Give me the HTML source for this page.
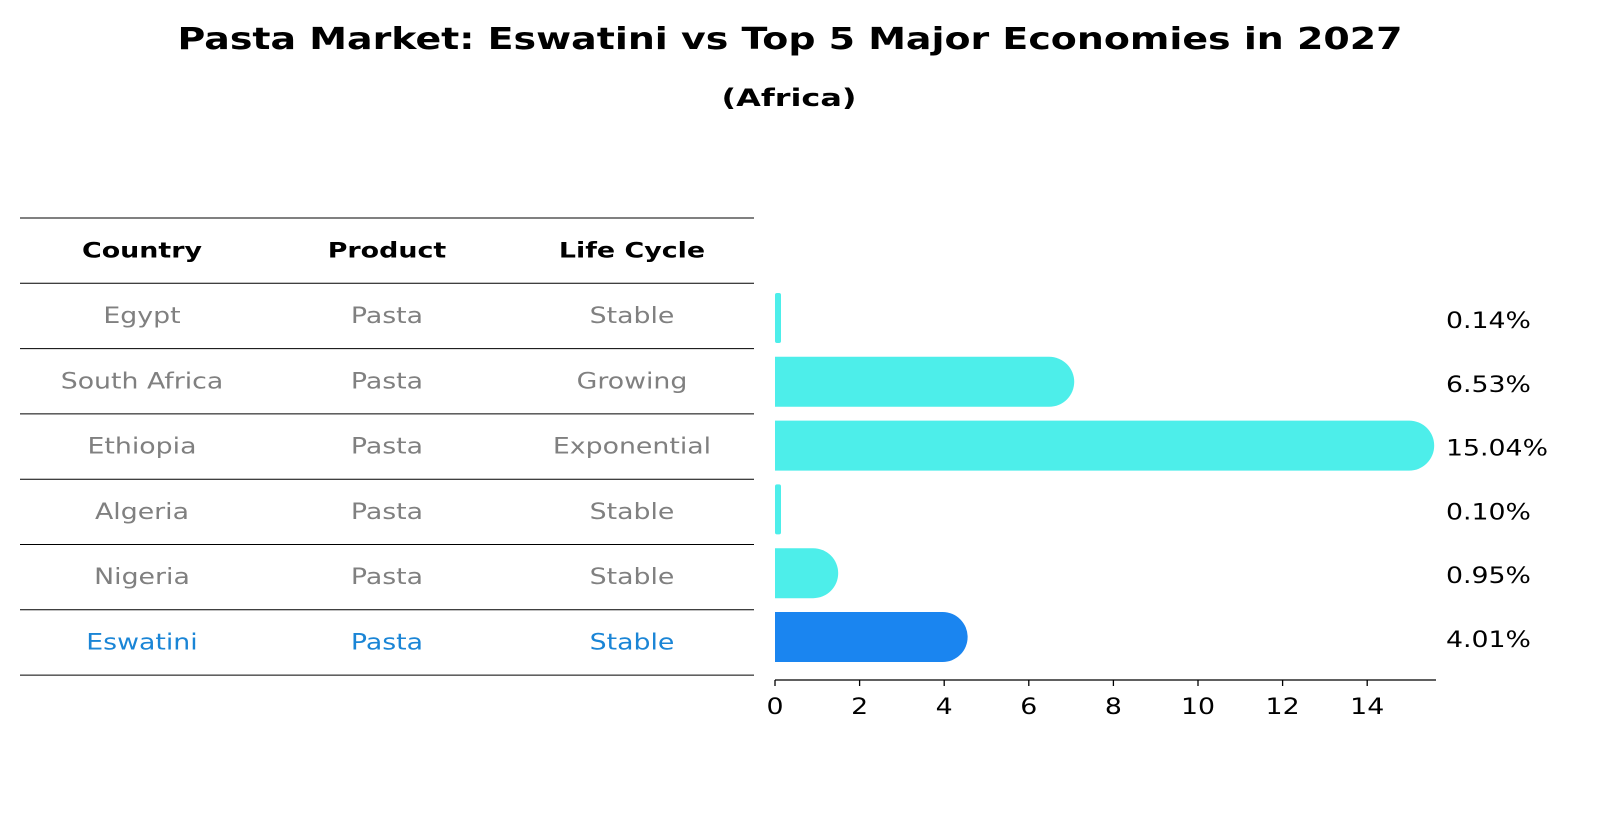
<!DOCTYPE html>
<html><head><meta charset="utf-8"><style>
body{margin:0;background:#fff;}
svg{display:block;font-family:"DejaVu Sans","Liberation Sans",sans-serif;}
</style></head><body>
<svg id="chart" width="1604" height="823" viewBox="0 0 1604 823" xmlns="http://www.w3.org/2000/svg">
<text id="ttl" x="790" y="49" text-anchor="middle" font-size="30" font-weight="bold" fill="#000">Pasta Market: Eswatini vs Top 5 Major Economies in 2027</text>
<text id="sub" x="789" y="106" text-anchor="middle" font-size="24" font-weight="bold" fill="#000">(Africa)</text>
<g id="table"></g>
<g id="bars"></g>
</svg>
<script>
const countries = ["Egypt","South Africa","Ethiopia","Algeria","Nigeria","Eswatini"];
const products = ["Pasta","Pasta","Pasta","Pasta","Pasta","Pasta"];
const lifeCycles = ["Stable","Growing","Exponential","Stable","Stable","Stable"];
const values = [0.14,6.53,15.04,0.10,0.95,4.01];
const valueLabels = ["0.14%","6.53%","15.04%","0.10%","0.95%","4.01%"];
const xTicks = [0,2,4,6,8,10,12,14];
const highlight = "Eswatini";

const NS="http://www.w3.org/2000/svg";
const tbl=document.getElementById('table');
const bars=document.getElementById('bars');
function mk(tag,attrs,parent,text){const e=document.createElementNS(NS,tag);for(const k in attrs)e.setAttribute(k,attrs[k]);if(text!==undefined)e.textContent=text;parent.appendChild(e);return e;}
const normTexts=[], boldTexts=[];

// table
const lineY0=218, rowH=65.3, tx1=20, tx2=754;
const colX=[142,387,632];
for(let i=0;i<=countries.length+1;i++){
  const y=lineY0+i*rowH;
  const l=mk('line',{x1:tx1,x2:tx2,y1:y,y2:y,stroke:'#000','stroke-width':1},tbl);
  
  
}
const heads=["Country","Product","Life Cycle"];
heads.forEach((h,j)=>{
  const t=mk('text',{x:colX[j],y:lineY0+rowH/2+7,'text-anchor':'middle','font-size':21,'font-weight':'bold',fill:'#000'},tbl,h);
  
  
  boldTexts.push(t);
});
countries.forEach((c,i)=>{
  const y=lineY0+(i+1)*rowH+rowH/2+7;
  const col=c===highlight?'#1a85d6':'#808080';
  [c,products[i],lifeCycles[i]].forEach((v,j)=>{
    const t=mk('text',{x:colX[j],y:y,'text-anchor':'middle','font-size':22,fill:col},tbl,v);
    
    
    normTexts.push(t);
  });
});

// bar chart
const x0=775, pxPer=42.3, axisY=680, rowStep=63.8, firstCenter=318, barH=50;
const xs=v=>x0+v*pxPer;
const yc=i=>firstCenter+i*rowStep;
const ax=mk('line',{x1:x0,x2:1436,y1:axisY,y2:axisY,stroke:'#000','stroke-width':1.3},bars);


xTicks.forEach(t=>{
  const tk=mk('line',{x1:xs(t),x2:xs(t),y1:axisY,y2:axisY+6,stroke:'#000','stroke-width':1.3},bars);
  
  
  const lb=mk('text',{x:xs(t),y:axisY+34,'text-anchor':'middle','font-size':22,fill:'#000'},bars,String(t));
  
  
  normTexts.push(lb);
});
let refLabel=null;
values.forEach((v,i)=>{
  const c=yc(i);
  const col=countries[i]===highlight?'#1a85f0':'#4deeea';
  const w=Math.max(xs(v)-x0,0);
  const end=xs(v)+(w>20?barH/2-2:0);
  let el;
  if(w>20){
    el=mk('path',{d:`M${x0},${c-barH/2} H${end-barH/2} A${barH/2},${barH/2} 0 0 1 ${end-barH/2},${c+barH/2} H${x0} Z`,fill:col},bars);
  } else {
    el=mk('rect',{x:x0,y:c-barH/2,width:Math.max(w,6),height:barH,rx:2,fill:col},bars);
  }
  
  
  const lb=mk('text',{x:1446,y:c+10,'font-size':22,fill:'#000'},bars,valueLabels[i]);
  
  
  normTexts.push(lb);
  if(valueLabels[i]==="15.04%") refLabel=lb;
});

// width calibration to match reference glyph metrics
function fit(el,target){const w=el.getComputedTextLength();if(w>0){el.setAttribute('textLength',target);el.setAttribute('lengthAdjust','spacingAndGlyphs');}}
fit(document.getElementById('ttl'),1225);
fit(document.getElementById('sub'),135);
const kN = refLabel ? 102/refLabel.getComputedTextLength() : 1;
const kB = 120/boldTexts[0].getComputedTextLength();
normTexts.forEach(t=>{const w=t.getComputedTextLength();t.setAttribute('textLength',w*kN);t.setAttribute('lengthAdjust','spacingAndGlyphs');});
boldTexts.forEach(t=>{const w=t.getComputedTextLength();t.setAttribute('textLength',w*kB);t.setAttribute('lengthAdjust','spacingAndGlyphs');});
</script>
</body></html>
